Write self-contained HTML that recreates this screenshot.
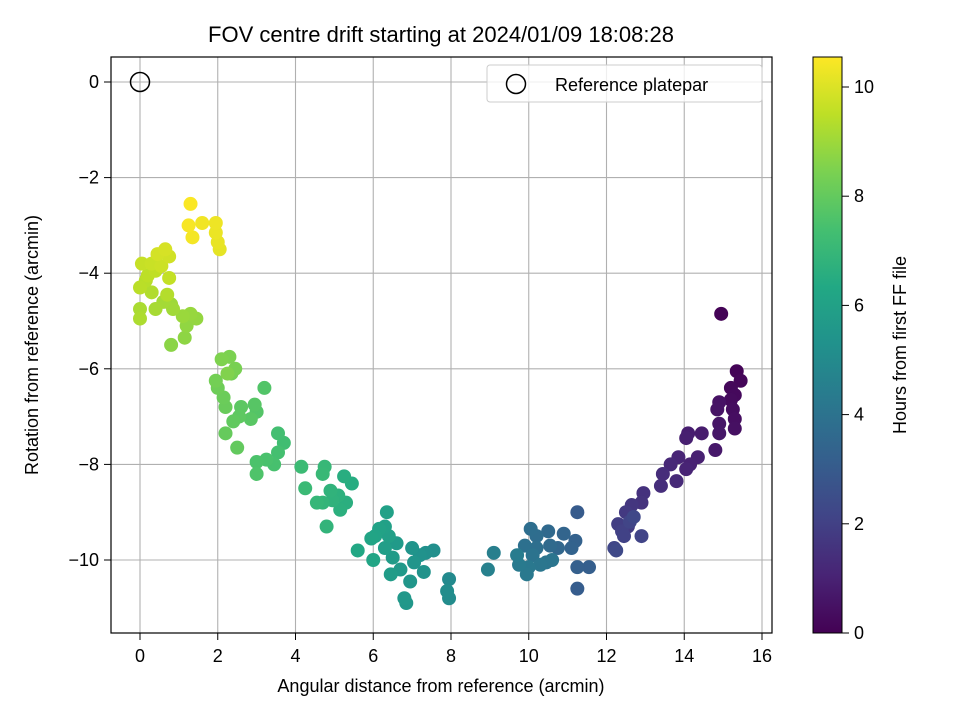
<!DOCTYPE html>
<html><head><meta charset="utf-8"><style>
body{margin:0;background:#fff}
svg{font-family:"Liberation Sans","DejaVu Sans",sans-serif}
</style></head><body>
<svg id="chart" width="960" height="720" viewBox="0 0 960 720">
<defs>
<linearGradient id="vir" x1="0" y1="1" x2="0" y2="0">
<stop offset="0" stop-color="#440154"/><stop offset="0.1" stop-color="#482475"/><stop offset="0.2" stop-color="#414487"/><stop offset="0.3" stop-color="#355f8d"/><stop offset="0.4" stop-color="#2a788e"/><stop offset="0.5" stop-color="#21918c"/><stop offset="0.6" stop-color="#22a884"/><stop offset="0.7" stop-color="#44bf70"/><stop offset="0.8" stop-color="#7ad151"/><stop offset="0.9" stop-color="#bddf26"/><stop offset="1" stop-color="#fde725"/>
</linearGradient>
</defs>
<rect width="960" height="720" fill="#fff"/>
<text x="441" y="42" font-size="22" text-anchor="middle">FOV centre drift starting at 2024/01/09 18:08:28</text>
<g id="grid"></g>
<g id="points"></g>
<rect x="111" y="57" width="661" height="576" fill="none" stroke="#000" stroke-width="1.2"/>
<g id="axes"></g>
<text x="441" y="692" font-size="18" text-anchor="middle">Angular distance from reference (arcmin)</text>
<text transform="translate(38,345) rotate(-90)" font-size="18" text-anchor="middle">Rotation from reference (arcmin)</text>
<g>
<rect x="487" y="65" width="275" height="37" rx="3" fill="#fff" fill-opacity="0.8" stroke="#ccc"/>
<circle cx="516" cy="84" r="9.5" fill="none" stroke="#000" stroke-width="1.5"/>
<text x="555" y="91" font-size="18">Reference platepar</text>
</g>
<rect x="813" y="57" width="29" height="576" fill="url(#vir)" stroke="#000" stroke-width="1"/>
<g id="cbticks"></g>
<text transform="translate(906,345) rotate(-90)" font-size="18" text-anchor="middle">Hours from first FF file</text>
</svg>
<script>
const xs=[14.95,15.35,15.45,15.2,15.3,15.2,15.25,15.3,15.3,14.9,14.85,14.9,14.9,14.8,14.45,14.1,14.05,14.35,14.15,14.05,13.85,13.65,13.8,13.45,13.4,12.95,12.9,12.65,12.5,12.55,12.3,12.4,12.45,12.9,12.6,12.2,12.7,12.25,
11.25,11.25,11.55,11.25,11.2,11.1,10.9,10.75,10.5,10.55,10.2,10.05,10.2,9.9,10.1,10.45,10.6,10.3,10.0,9.95,9.75,9.7,9.1,8.95,
7.95,7.95,7.9,7.55,7.35,7.2,7.3,7.0,7.05,6.95,6.85,6.8,6.7,6.6,6.5,6.45,6.3,6.4,6.3,6.35,6.15,6.05,5.95,6.0,5.6,
5.45,5.25,5.3,5.15,5.1,4.95,4.9,4.8,4.7,4.55,4.75,4.7,4.25,4.15,
3.7,3.55,3.55,3.45,3.25,3.0,3.0,3.2,3.0,2.95,2.85,2.6,2.55,2.4,2.5,2.2,2.2,2.15,2.0,1.95,2.35,2.45,2.3,2.1,2.25,
0.8,1.15,1.2,1.45,1.3,1.1,0.8,0.85,0.6,0.4,0.0,0.0,0.3,0.7,0.15,0.0,0.2,0.4,0.75,0.05,0.3,0.55,0.75,0.45,0.65,
1.3,1.25,1.35,1.6,1.95,1.95,2.0,2.05];
const ys=[-4.85,-6.05,-6.25,-6.4,-6.55,-6.65,-6.85,-7.05,-7.25,-6.7,-6.85,-7.15,-7.35,-7.7,-7.35,-7.35,-7.45,-7.85,-8.0,-8.1,-7.85,-8.0,-8.35,-8.2,-8.45,-8.6,-8.8,-8.85,-9.0,-9.3,-9.25,-9.4,-9.5,-9.5,-9.2,-9.75,-9.1,-9.8,
-9.0,-10.6,-10.15,-10.15,-9.6,-9.75,-9.45,-9.75,-9.4,-9.7,-9.5,-9.35,-9.75,-9.7,-9.9,-10.05,-10.0,-10.1,-10.15,-10.3,-10.1,-9.9,-9.85,-10.2,
-10.4,-10.8,-10.65,-9.8,-9.85,-9.9,-10.25,-9.75,-10.05,-10.45,-10.9,-10.8,-10.2,-9.65,-9.95,-10.3,-9.75,-9.5,-9.3,-9.0,-9.35,-9.5,-9.55,-10.0,-9.8,
-8.4,-8.25,-8.8,-8.95,-8.65,-8.75,-8.55,-9.3,-8.8,-8.8,-8.05,-8.2,-8.5,-8.05,
-7.55,-7.35,-7.75,-8.0,-7.9,-7.95,-8.2,-6.4,-6.9,-6.75,-7.05,-6.8,-7.0,-7.1,-7.65,-7.35,-6.8,-6.6,-6.4,-6.25,-6.1,-6.0,-5.75,-5.8,-6.1,
-5.5,-5.35,-5.1,-4.95,-4.85,-4.9,-4.65,-4.75,-4.6,-4.75,-4.75,-4.95,-4.4,-4.45,-4.15,-4.3,-4.05,-3.95,-4.1,-3.8,-3.8,-3.85,-3.65,-3.6,-3.5,
-2.55,-3.0,-3.25,-2.95,-2.95,-3.15,-3.35,-3.5];
const hs=[0.05,0.1,0.15,0.2,0.25,0.3,0.35,0.4,0.45,0.5,0.55,0.6,0.65,0.7,0.8,0.85,0.9,0.95,1.0,1.05,1.1,1.2,1.25,1.35,1.4,1.5,1.55,1.65,1.75,1.8,1.9,2.0,2.05,2.1,2.15,2.2,2.25,2.3,
3.0,3.1,3.15,3.2,3.3,3.35,3.4,3.5,3.6,3.65,3.75,3.8,3.85,3.9,4.0,4.05,4.1,4.15,4.2,4.25,4.3,4.4,4.5,4.6,
5.0,5.05,5.1,5.2,5.25,5.3,5.35,5.4,5.45,5.5,5.55,5.6,5.65,5.7,5.75,5.8,5.85,5.9,5.95,6.0,6.05,6.1,6.15,6.2,6.3,
6.5,6.55,6.6,6.65,6.7,6.75,6.8,6.85,6.9,6.95,7.0,7.05,7.1,7.15,
7.3,7.35,7.4,7.45,7.5,7.55,7.6,7.65,7.7,7.75,7.8,7.85,7.9,7.95,8.0,8.05,8.1,8.15,8.2,8.3,8.35,8.4,8.45,8.5,8.55,
8.7,8.75,8.8,8.85,8.9,8.95,9.0,9.05,9.1,9.15,9.2,9.25,9.3,9.35,9.4,9.45,9.5,9.55,9.6,9.65,9.7,9.75,9.8,9.85,9.9,
10.5,10.45,10.4,10.35,10.3,10.25,10.2,10.15];
const xTicks=[0,2,4,6,8,10,12,14,16];
const yTicks=[0,-2,-4,-6,-8,-10];
const cTicks=[0,2,4,6,8,10];
const NS="http://www.w3.org/2000/svg";
const sx=v=>140+v*38.875, sy=v=>82-v*47.8, sc=v=>633-v*54.6;
const VIR=[[68,1,84],[72,36,117],[65,68,135],[53,95,141],[42,120,142],[33,145,140],[34,168,132],[68,191,112],[122,209,81],[189,223,38],[253,231,37]];
function vir(t){t=Math.max(0,Math.min(1,t))*10;const i=Math.min(9,Math.floor(t)),f=t-i;const a=VIR[i],b=VIR[i+1];return`rgb(${a.map((c,k)=>Math.round(c+(b[k]-c)*f)).join(',')})`;}
function mk(tag,at,parent){const e=document.createElementNS(NS,tag);for(const k in at)e.setAttribute(k,at[k]);parent.appendChild(e);return e;}
const grid=document.getElementById('grid'),axes=document.getElementById('axes'),pts=document.getElementById('points'),cb=document.getElementById('cbticks');
const fmt=v=>v<0?'\u2212'+(-v):''+v;
xTicks.forEach(v=>{const x=sx(v);
const g=mk('line',{x1:x,x2:x,y1:57,y2:633,stroke:'#b0b0b0','stroke-width':1.1},grid);


mk('line',{x1:x,x2:x,y1:633,y2:640,stroke:'#000'},axes);
const t=mk('text',{x:x,y:662,'font-size':18,'text-anchor':'middle'},axes);t.textContent=fmt(v);

});
yTicks.forEach(v=>{const y=sy(v);
const g=mk('line',{x1:111,x2:772,y1:y,y2:y,stroke:'#b0b0b0','stroke-width':1.1},grid);


mk('line',{x1:104,x2:111,y1:y,y2:y,stroke:'#000'},axes);
const t=mk('text',{x:99,y:y+6,'font-size':18,'text-anchor':'end'},axes);t.textContent=fmt(v);

});
cTicks.forEach(v=>{const y=sc(v);
mk('line',{x1:842,x2:849,y1:y,y2:y,stroke:'#000'},cb);
const t=mk('text',{x:854,y:y+6,'font-size':18},cb);t.textContent=v;

});
const idx=xs.map((_,i)=>i).sort((a,b)=>hs[a]-hs[b]);
idx.forEach(i=>{const c=mk('circle',{cx:sx(xs[i]),cy:sy(ys[i]),r:7,fill:vir(hs[i]/10.55)},pts);

});
const r=mk('circle',{cx:sx(0),cy:sy(0),r:9.5,fill:'none',stroke:'#000','stroke-width':1.5},pts);


</script>
</body></html>
